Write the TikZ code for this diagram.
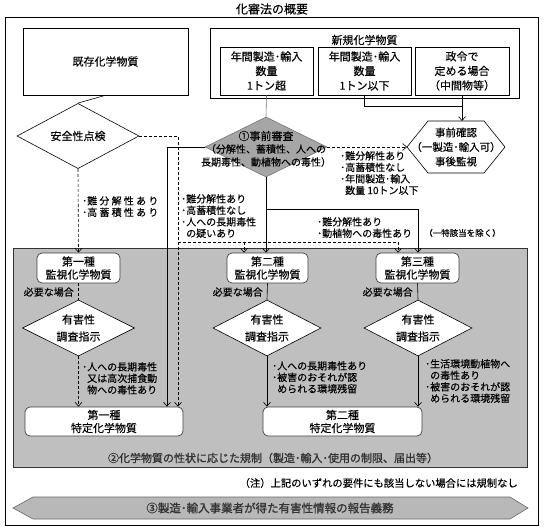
\documentclass[tikz,border=0pt]{standalone}
\usepackage{fontspec}
\newfontfamily\jp[FakeBold=0.25]{Noto Sans CJK JP}
\newfontfamily\jpb[FakeBold=1.2]{Noto Sans CJK JP}
\usetikzlibrary{arrows.meta,shapes.geometric}
\begin{document}
\begin{tikzpicture}[x=1pt,y=-1pt,
  every node/.style={font=\jp\fontsize{10}{11.5}\selectfont},
  sq/.style={draw=black, fill=white, inner sep=0, line width=0.6pt},
  rbox/.style={draw=black!75, fill=white, rounded corners=5pt, line width=0.7pt, inner sep=0, align=center, font=\jp\fontsize{11}{13}\selectfont},
  big/.style={font=\jp\fontsize{11}{14.5}\selectfont, align=center, inner sep=0},
  lbl/.style={anchor=north west, align=left, inner sep=0, font=\jp\fontsize{10}{11.5}\selectfont},
  dia/.style={diamond, draw=black, fill=white, inner sep=0, line width=0.6pt},
  arr/.style={-{Straight Barb[length=4pt,width=7pt]}},
  ln/.style={line width=0.6pt},
  dsh/.style={line width=0.6pt, dash pattern=on 3pt off 2pt},
]
\useasboundingbox (0,0) rectangle (545,529);
\draw[line width=0.8pt] (5,17) rectangle (538,525);
\node[font=\jp\fontsize{12}{14}\selectfont, inner sep=0] (title) at (272,9) {化審法の概要};

% top boxes
\node[sq, minimum width=165pt, minimum height=67pt, font=\jp\fontsize{11}{13}\selectfont] (exist) at (105.5,61.5) {既存化学物質};
\node[sq, minimum width=309pt, minimum height=70pt] (newo) at (364.5,63) {};
\node[big] (newl) at (364.5,40) {新規化学物質};
\node[sq, big, minimum width=93pt, minimum height=48pt] (n1) at (266.5,71) {年間製造･輸入\\数量\\1トン超};
\node[sq, big, minimum width=93pt, minimum height=48pt] (n2) at (364.5,71) {年間製造･輸入\\数量\\1トン以下};
\node[sq, big, minimum width=94pt, minimum height=48pt] (n3) at (462,71) {政令で\\定める場合\\（中間物等）};

% gray panel
\node[draw=black!80, fill=black!25, minimum width=514pt, minimum height=219pt, inner sep=0, line width=0.8pt] (panel) at (270,357.5) {};

% diamonds top
\node[dia, minimum width=122pt, minimum height=58pt, font=\jp\fontsize{11}{13}\selectfont] (safe) at (78,136) {安全性点検};
\node[diamond, draw=black!55, fill=black!35, minimum width=122pt, minimum height=60pt, inner sep=0, line width=0.6pt] (pre) at (266,147) {};
\node[inner sep=0, font=\jp\fontsize{11}{13}\selectfont] (pret) at (266,136) {①事前審査};
\node[align=center, inner sep=0, font=\jp\fontsize{10}{13}\selectfont] (pret2) at (266,155.5) {（分解性、蓄積性、人への\\長期毒性、動植物への毒性）};

% hexagon
\draw[ln, fill=white] (407,147) -- (428,121) -- (484,121) -- (505,147) -- (484,173) -- (428,173) -- cycle;
\coordinate (hexL) at (407,147);
\coordinate (hexT) at (462,121);
\node[align=center, inner sep=0, font=\jp\fontsize{10.5}{14.5}\selectfont] (hex) at (456,147) {事前確認\\（一製造･輸入可）\\事後監視};

% monitoring boxes
\node[rbox, minimum width=83pt, minimum height=30pt] (m1) at (78.5,268) {第一種\\監視化学物質};
\node[rbox, minimum width=81pt, minimum height=30pt] (m2) at (267.5,268) {第二種\\監視化学物質};
\node[rbox, minimum width=83pt, minimum height=30pt] (m3) at (417.5,268) {第三種\\監視化学物質};

\node[anchor=east, inner sep=0] (need1) at (74,292) {必要な場合};
\node[anchor=east, inner sep=0] (need2) at (263,292) {必要な場合};
\node[anchor=east, inner sep=0] (need3) at (413,292) {必要な場合};

\node[dia, minimum width=112pt, minimum height=56pt] (h1) at (78.5,328) {};
\node[dia, minimum width=108pt, minimum height=56pt] (h2) at (267,328) {};
\node[dia, minimum width=108pt, minimum height=56pt] (h3) at (418,328) {};
\node[align=center, inner sep=0, font=\jp\fontsize{11}{17}\selectfont] (h1t) at (h1) {有害性\\調査指示};
\node[align=center, inner sep=0, font=\jp\fontsize{11}{17}\selectfont] (h2t) at (h2) {有害性\\調査指示};
\node[align=center, inner sep=0, font=\jp\fontsize{11}{17}\selectfont] (h3t) at (h3) {有害性\\調査指示};

\node[rbox, minimum width=158pt, minimum height=29pt] (s1) at (104,421.5) {第一種\\特定化学物質};
\node[rbox, minimum width=159pt, minimum height=29pt] (s2) at (342.5,421.5) {第二種\\特定化学物質};

% connectors
\draw[ln] (exist.south) -- (safe.north);
\draw[ln, black!55] (n1.south) -- (pre.north);
\coordinate (j1) at (462,106);
\draw[ln] (n2.south) |- (j1);
\draw[ln, arr] (n3.south) -- (hexT);
\draw[dsh, arr] (pre.east) -- (hexL);

\coordinate (c1) at (167,147);
\draw[ln, arr] (pre.west) -- (c1) -- (c1 |- s1.north);
\coordinate (c2) at (178,136);
\draw[dsh, arr] (safe.east) -- (c2) -- (c2 |- s1.north);
\coordinate (c3) at (178,242);
\coordinate (c4) at (244,242);
\coordinate (c5) at (398,242);
\draw[dsh] (c3) -- (c5);
\draw[dsh, arr] (c4) -- (c4 |- m2.north);
\draw[dsh, arr] (c5) -- (c5 |- m3.north);
\draw[dsh, arr] (safe.south) -- (m1.north);
\draw[ln, arr] (pre.south) -- (pre.south |- m2.north);
\coordinate (c6) at (266,209);
\coordinate (c7) at (418,209);
\draw[ln] (c6) -- (c7);
\draw[ln, arr] (c7) -- (c7 |- m3.north);

\draw[dsh] (m1.south) -- (h1.north);
\draw[ln] (m2.south) -- (h2.north);
\draw[ln] (m3.south) -- (h3.north);
\draw[dsh, arr] (h1.south) -- (h1.south |- s1.north);
\draw[ln, arr] (h2.south) -- (h2.south |- s2.north);
\draw[ln, arr] (h3.south) -- (h3.south |- s2.north);

% labels
\node[lbl] (l1) at (340,151) {･難分解性あり\\･高蓄積性なし\\･年間製造･輸入\\\hspace*{0.5em}数量 10トン以下};
\node[lbl] (l2) at (82,196) {･難 分 解 性 あ り\\･高 蓄 積 性 あ り};
\node[lbl] (l3) at (181,194) {･難分解性あり\\･高蓄積性なし\\･人への長期毒性\\\hspace*{0.5em}の疑いあり};
\node[lbl] (l4) at (317,217) {･難分解性あり\\･動植物への毒性あり};
\node[anchor=west, inner sep=0, font=\jp\fontsize{8.5}{10}\selectfont] (l5) at (424,233) {（一特該当を除く）};
\node[lbl] (l6) at (82,362) {･人への長期毒性\\\hspace*{0.5em}又は高次捕食動\\\hspace*{0.5em}物への毒性あり};
\node[lbl] (l7) at (272,361) {･人への長期毒性あり\\･被害のおそれが認\\\hspace*{0.5em}められる環境残留};
\node[lbl] (l8) at (425,359) {･生活環境動植物へ\\\hspace*{0.5em}の毒性あり\\･被害のおそれが認\\\hspace*{0.5em}められる環境残留};

% bottom
\node[inner sep=0, font=\jpb\fontsize{11}{13}\selectfont, text=black!80] (reg) at (273,458) {②化学物質の性状に応じた規制（製造･輸入･使用の制限、届出等）};
\node[anchor=east, inner sep=0, font=\jp\fontsize{10.3}{12}\selectfont] (note) at (518,483) {（注）上記のいずれの要件にも該当しない場合には規制なし};
\draw[draw=black!60, fill=black!28, line width=0.6pt] (13,508) -- (33,497) -- (510,497) -- (528,508) -- (510,519) -- (33,519) -- cycle;
\node[inner sep=0, font=\jpb\fontsize{11.5}{13}\selectfont, text=black!80] (rep) at (270,508) {③製造･輸入事業者が得た有害性情報の報告義務};
\end{tikzpicture}
\end{document}
